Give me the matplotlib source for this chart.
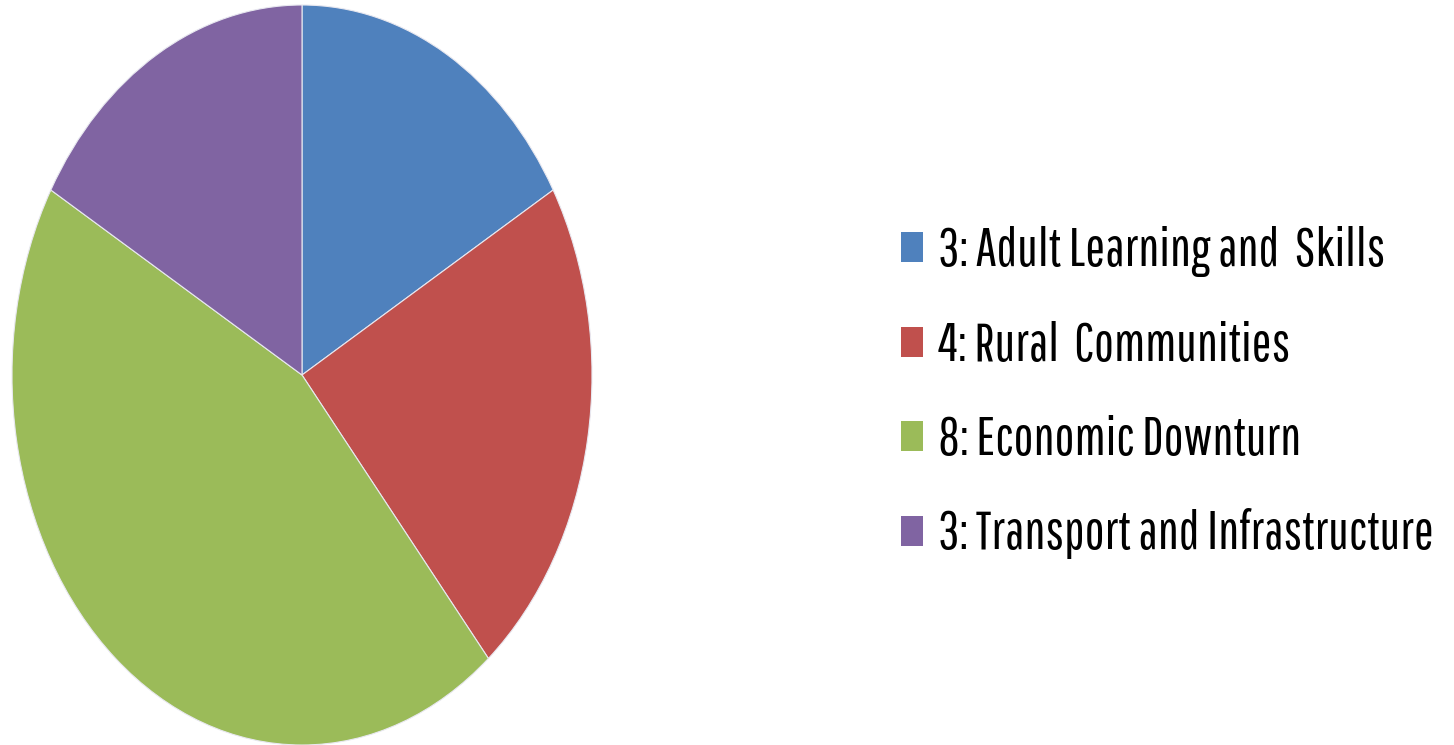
import matplotlib.pyplot as plt
from matplotlib.patches import Patch

labels = ['3: Adult Learning and  Skills', '4: Rural  Communities',
          '8: Economic Downturn', '3: Transport and Infrastructure']
values = [3, 4, 8, 3]
colors = ['#4F81BD', '#C0504D', '#9BBB59', '#8064A2']

fig = plt.figure(figsize=(14.54, 7.45), dpi=100)
ax = fig.add_axes([12 / 1454, 0.0, 580 / 1454, 740 / 745])
ax.pie(values, colors=colors, startangle=90, counterclock=False,
       wedgeprops=dict(edgecolor='#e8e8f0', linewidth=0.8))
ax.set_aspect('auto')
ax.set_xlim(-1, 1)
ax.set_ylim(-1, 1)
ax.axis('off')

handles = [Patch(facecolor=c, edgecolor='none') for c in colors]
fig.legend(handles, labels, loc='upper left', bbox_to_anchor=(901 / 1454, 1 - 226 / 745),
           frameon=False,
           prop={'family': ['Pathway Gothic One', 'Roboto Condensed', 'DejaVu Sans'], 'size': 38},
           handlelength=0.42, handleheight=0.5, handletextpad=0.28, labelspacing=0.83,
           borderaxespad=0, borderpad=0)

fig.savefig('out.png', dpi=100)
